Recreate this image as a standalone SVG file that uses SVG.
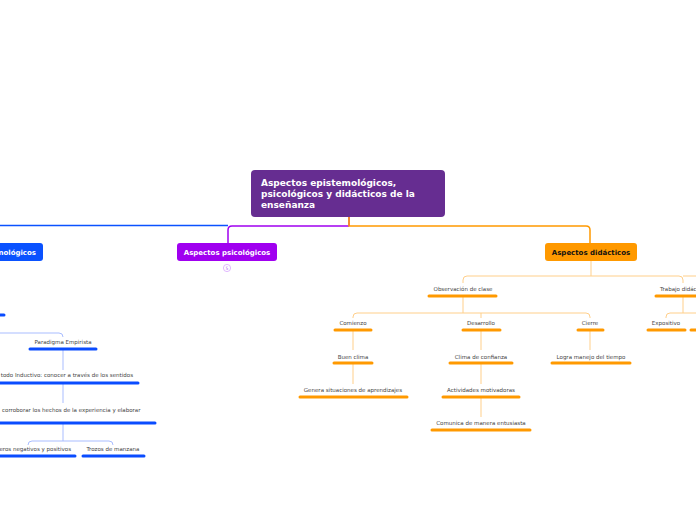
<svg xmlns="http://www.w3.org/2000/svg" width="696" height="520" viewBox="0 0 696 520">
<style>
.lbl{font-family:"DejaVu Sans",Verdana,sans-serif;font-size:5.5px;fill:#444;}
.mid{text-anchor:middle;}
.end{text-anchor:end;}
.main{font-family:"DejaVu Sans",Verdana,sans-serif;font-weight:bold;font-size:7px;text-anchor:middle;}
.ou{stroke:#ff9900;stroke-width:3;stroke-linecap:round;fill:none;}
.bu{stroke:#0a4cff;stroke-width:3;stroke-linecap:round;fill:none;}
.oc{stroke:#ffcf8a;stroke-width:1;fill:none;}
.bc{stroke:#a9bdff;stroke-width:1;fill:none;}
</style>
<rect width="696" height="520" fill="#ffffff"/>
<g id="connectors">
  <path d="M0,225.5 H228" stroke="#0a52ff" stroke-width="1.5" fill="none"/>
  <path d="M228,243 V230 Q228,226 232,226 H349" stroke="#a000f0" stroke-width="1.5" fill="none"/>
  <path d="M349,217 V226 H586 Q590,226 590,230 V243" stroke="#ff9900" stroke-width="1.5" fill="none"/>
  <path d="M349,217 V226" stroke="#f07f30" stroke-width="1.5" fill="none"/>
  <path class="oc" d="M591,261 V276"/>
  <path class="oc" d="M463,283 V280 Q463,276 467,276 H679 Q683,276 683,280 V283 M683,276 H696"/>
  <path class="oc" d="M463,297 V313"/>
  <path class="oc" d="M353,318 V317 Q353,313 357,313 H586 Q590,313 590,317 V318 M481,313 V318"/>
  <path class="oc" d="M683,297 V313 M666,318 V317 Q666,313 670,313 H696"/>
  <path class="oc" d="M353,331 V350 M353,364 V384"/>
  <path class="oc" d="M481,331 V350 M481,364 V384 M481,398 V417"/>
  <path class="oc" d="M590,331 V350"/>
  <path class="bc" d="M0,333 H59 Q63,333 63,337"/>
  <path class="bc" d="M63,350 V370 M63,384 V403 M63,424 V441"/>
  <path class="bc" d="M28,445 Q28,441 32,441 H109 Q113,441 113,445"/>
</g>
<g id="root">
  <rect x="251" y="170" width="194" height="47" rx="4" fill="#662d91"/>
  <text font-family="DejaVu Sans,Verdana,sans-serif" font-weight="bold" font-size="9" fill="#ffffff">
    <tspan x="261" y="186">Aspectos epistemológicos,</tspan>
    <tspan x="261" y="197">psicológicos y didácticos de la</tspan>
    <tspan x="261" y="208">enseñanza</tspan>
  </text>
</g>
<g id="n-epistemologicos">
  <rect x="-60" y="243" width="103" height="18" rx="3" fill="#0a52ff"/>
  <text class="main" x="36" y="255" fill="#ffffff" text-anchor="end" style="text-anchor:end">nológicos</text>
</g>
<g id="n-psicologicos">
  <rect x="177" y="243" width="100" height="18" rx="3" fill="#a000f0"/>
  <text class="main" x="227" y="255" fill="#ffffff">Aspectos psicológicos</text>
  <circle cx="227" cy="268" r="3.6" fill="#ffffff" stroke="#d9a6ff" stroke-width="0.8"/>
  <text x="227" y="270" font-family="DejaVu Sans,sans-serif" font-size="4.5" fill="#b060f0" text-anchor="middle">5</text>
</g>
<g id="n-didacticos">
  <rect x="545" y="243" width="92" height="18" rx="3" fill="#ff9900"/>
  <text class="main" x="591" y="255" fill="#111111">Aspectos didácticos</text>
</g>
<g id="n-observacion"><text class="lbl mid" x="463" y="291">Observación de clase</text><path class="ou" d="M429,296 H496"/></g>
<g id="n-trabajo"><text class="lbl" x="660" y="291">Trabajo didác</text><path class="ou" d="M656,296 H698"/></g>
<g id="n-comienzo"><text class="lbl mid" x="353" y="325">Comienzo</text><path class="ou" d="M335,330 H371"/></g>
<g id="n-desarrollo"><text class="lbl mid" x="481" y="325">Desarrollo</text><path class="ou" d="M463,330 H500"/></g>
<g id="n-cierre"><text class="lbl mid" x="590" y="325">Cierre</text><path class="ou" d="M578,330 H603"/></g>
<g id="n-expositivo"><text class="lbl mid" x="666" y="325">Expositivo</text><path class="ou" d="M648,330 H685"/><path class="ou" d="M691,330 H698"/></g>
<g id="n-buenclima"><text class="lbl mid" x="353" y="359">Buen clima</text><path class="ou" d="M334,363 H372"/></g>
<g id="n-confianza"><text class="lbl mid" x="481" y="359">Clima de confianza</text><path class="ou" d="M450,363 H512"/></g>
<g id="n-tiempo"><text class="lbl mid" x="591" y="359">Logra manejo del tiempo</text><path class="ou" d="M552,363 H630"/></g>
<g id="n-genera"><text class="lbl mid" x="353" y="392">Genera situaciones de aprendizajes</text><path class="ou" d="M300,397 H407"/></g>
<g id="n-actividades"><text class="lbl mid" x="481" y="392">Actividades motivadoras</text><path class="ou" d="M443,397 H519"/></g>
<g id="n-comunica"><text class="lbl mid" x="481" y="425">Comunica de manera entusiasta</text><path class="ou" d="M432,430 H530"/></g>
<g id="n-blue-top"><path class="bu" d="M-5,315 H4"/></g>
<g id="n-paradigma"><text class="lbl mid" x="63" y="344">Paradigma Empirista</text><path class="bu" d="M30,349 H96"/></g>
<g id="n-inductivo"><text class="lbl end" x="133" y="377">todo Inductivo: conocer a través de los sentidos</text><path class="bu" d="M-5,383 H138"/></g>
<g id="n-corroborar"><text class="lbl" x="2" y="412">corroborar los hechos de la experiencia y elaborar</text><path class="bu" d="M-5,423 H155"/></g>
<g id="n-numeros"><text class="lbl end" x="71" y="451">eros negativos y positivos</text><path class="bu" d="M-5,456 H75"/></g>
<g id="n-trozos"><text class="lbl mid" x="113" y="451">Trozos de manzana</text><path class="bu" d="M83,456 H144"/></g>
</svg>
